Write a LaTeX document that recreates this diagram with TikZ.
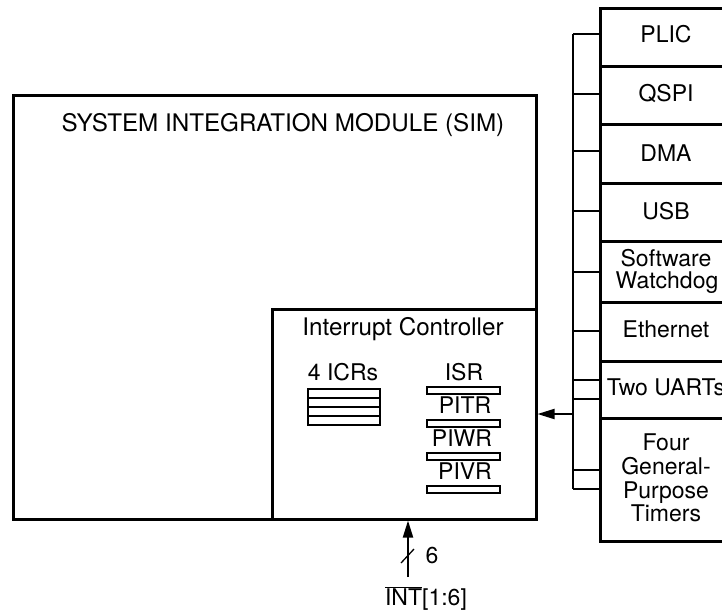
\documentclass[tikz,border=0pt]{standalone}
\usepackage{fontspec}
\setmainfont{TeX Gyre Heros}
\usetikzlibrary{arrows.meta}
\begin{document}
\begin{tikzpicture}[x=1pt,y=-1pt,
  every node/.style={font=\fontsize{23}{24}\selectfont, inner sep=0pt, outer sep=0pt},
  blk/.style={draw, line width=3pt, anchor=north west},
  pbox/.style={draw, line width=3pt, minimum width=132pt, anchor=north west},
  wire/.style={line width=2pt},
  reg/.style={draw, line width=1.8pt, minimum width=73pt, minimum height=7pt, anchor=north west},
  arr/.style={line width=2pt, -{Triangle[length=17pt,width=10pt]}},
  txt/.style={anchor=base},
  title/.style={anchor=base, font=\fontsize{24.2}{26}\selectfont}]
\useasboundingbox (0,0) rectangle (722,611);
\clip (0,0) rectangle (722,611);

% SIM and interrupt controller
\node[blk, minimum width=523pt, minimum height=424pt] (sim) at (13,95) {};
\node[blk, minimum width=264pt, minimum height=210pt] (ic) at (272,309) {};
\node[title] (simt) at (283,131) {SYSTEM INTEGRATION MODULE (SIM)};
\node[title] (ict) at (403,335) {Interrupt Controller};

% ICRs
\node[txt] (icrt) at (343,380) {4 ICRs};
\node[reg, minimum width=72pt, minimum height=9pt] (icr1) at (308,389) {};
\node[reg, minimum width=72pt, minimum height=9pt] (icr2) at (308,398) {};
\node[reg, minimum width=72pt, minimum height=9pt] (icr3) at (308,407) {};
\node[reg, minimum width=72pt, minimum height=9pt] (icr4) at (308,416) {};

% single registers
\node[txt] (isrt) at (464,380) {ISR};
\node[reg] (isr) at (427,387) {};
\node[txt] (pitrt) at (465,413) {PITR};
\node[reg] (pitr) at (427,420) {};
\node[txt] (piwrt) at (462,446) {PIWR};
\node[reg] (piwr) at (427,453) {};
\node[txt] (pivrt) at (465,479) {PIVR};
\node[reg] (pivr) at (427,486) {};

% peripheral column
\node[pbox, minimum height=58pt] (plic) at (600,8) {};
\node[pbox, minimum height=58pt] (qspi) at (600,66) {};
\node[pbox, minimum height=59pt] (dma) at (600,124) {};
\node[pbox, minimum height=58pt] (usb) at (600,183) {};
\node[pbox, minimum height=61pt] (swd) at (600,241) {};
\node[pbox, minimum height=59pt] (eth) at (600,302) {};
\node[pbox, minimum height=57pt] (uart) at (600,361) {};
\node[pbox, minimum height=123pt] (tmr) at (600,418) {};

\node[txt] (plict) at (666,42) {PLIC};
\node[txt] (qspit) at (666,101) {QSPI};
\node[txt] (dmat) at (666,161) {DMA};
\node[txt] (usbt) at (666,219) {USB};
\node[txt] (swdt1) at (666,266) {Software};
\node[txt] (swdt2) at (667,288) {Watchdog};
\node[txt] (etht) at (666,337) {Ethernet};
\node[txt] (uartt) at (666,395) {Two UARTs};
\node[txt] (tmrt1) at (666,450) {Four};
\node[txt] (tmrt2) at (666,474) {General-};
\node[txt] (tmrt3) at (666,498) {Purpose};
\node[txt] (tmrt4) at (666,521) {Timers};

% bus
\coordinate (b1) at (573,34);
\coordinate (b2) at (573,94);
\coordinate (b3) at (573,151);
\coordinate (b4) at (573,211);
\coordinate (b5) at (573,272);
\coordinate (b6) at (573,331);
\coordinate (b7) at (573,380);
\coordinate (b8) at (573,399);
\coordinate (b9) at (573,470);
\coordinate (b10) at (573,489);
\coordinate (tap) at (573,414);
\draw[wire] (b1) -- (b10);
\draw[wire] (b1) -- (b1 -| plic.west);
\draw[wire] (b2) -- (b2 -| qspi.west);
\draw[wire] (b3) -- (b3 -| dma.west);
\draw[wire] (b4) -- (b4 -| usb.west);
\draw[wire] (b5) -- (b5 -| swd.west);
\draw[wire] (b6) -- (b6 -| eth.west);
\draw[wire] (b7) -- (b7 -| uart.west);
\draw[wire] (b8) -- (b8 -| uart.west);
\draw[wire] (b9) -- (b9 -| tmr.west);
\draw[wire] (b10) -- (b10 -| tmr.west);
\draw[arr] (tap) -- ([xshift=1.5pt]tap -| ic.east);

% external interrupt inputs
\coordinate (inbot) at (408,577);
\draw[arr] (inbot) -- ([yshift=-1.5pt]inbot |- ic.south);
\coordinate (sl1) at (401,563);
\coordinate (sl2) at (414,549);
\draw[line width=1.3pt] (sl1) -- (sl2);
\node[txt] (six) at (432,563) {6};
\node[txt] (intt) at (426,605) {$\overline{\hbox{INT}}$[1:6]};
\end{tikzpicture}
\end{document}
